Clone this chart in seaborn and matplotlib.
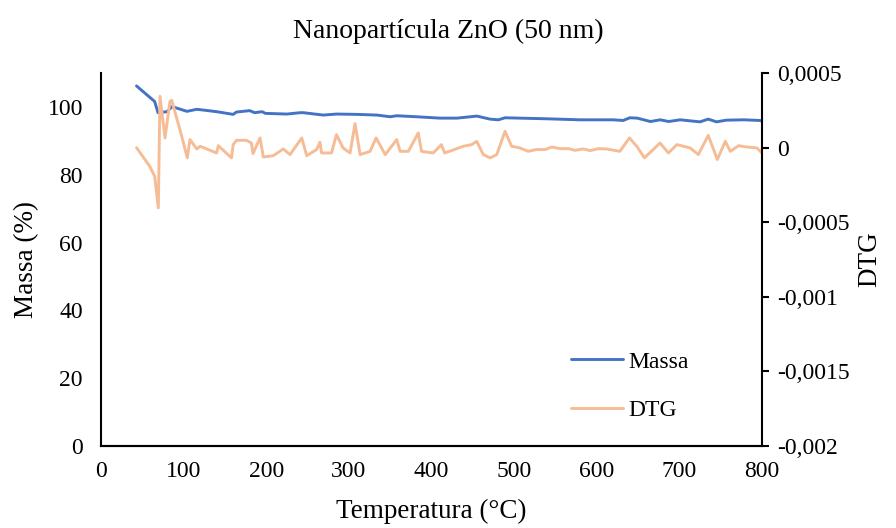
import numpy as np
import pandas as pd
import matplotlib
matplotlib.use("Agg")
import matplotlib.pyplot as plt
from matplotlib.ticker import FuncFormatter
import seaborn as sns

# Mass curve
temp_massa = [43, 65, 69, 80, 86, 104, 116, 140, 160, 164, 180, 186, 195, 199, 225, 241,
              245, 269, 285, 310, 334, 350, 358, 382, 410, 431, 455, 471, 481, 489, 540,
              580, 620, 632, 640, 649, 665, 677, 687, 701, 725, 735, 745, 757, 778, 798, 800]
massa = [106.2, 101.6, 98.3, 98.6, 100.1, 98.7, 99.3, 98.6, 97.8, 98.5, 98.9, 98.3, 98.6, 98.1, 97.9, 98.3,
         98.3, 97.6, 97.9, 97.8, 97.6, 97.1, 97.4, 97.1, 96.7, 96.7, 97.3, 96.4, 96.2, 96.8, 96.5,
         96.2, 96.2, 96.0, 96.8, 96.7, 95.7, 96.2, 95.7, 96.2, 95.6, 96.4, 95.6, 96.1, 96.2, 96.0, 95.8]

# DTG curve, in units of 1e-4
temp_dtg = [43, 59, 65, 69.4, 71.4, 77.5, 83.5, 85.6, 95.6, 104.5, 107.7, 116, 120, 140, 142, 158,
            160, 164, 176, 182, 184, 192.5, 196.5, 208.6, 220.7, 228.8, 243, 249, 261, 265, 267,
            279, 285, 293, 301.5, 307.5, 313.6, 325.7, 333, 344, 358, 362, 372, 384, 388, 402,
            412, 416, 438.6, 448.6, 454.8, 462.8, 471, 479, 489, 497, 507, 517, 527, 537.5,
            545.6, 555.7, 565.8, 573.9, 584, 592, 602, 612, 628, 639.6, 648.5, 657.8, 676.6,
            686.8, 697, 713, 723, 735, 746, 755.6, 761.7, 771.7, 781.7, 793.8, 800]
dtg_e4 = [0.0, -1.25, -1.92, -4.04, 3.44, 0.65, 3.1, 3.17, 1.2, -0.69, 0.54, -0.09, 0.09, -0.36, 0.13, -0.69,
          0.2, 0.49, 0.49, 0.31, -0.4, 0.65, -0.63, -0.54, -0.09, -0.47, 0.65, -0.54, -0.13, 0.36, -0.36,
          -0.36, 0.87, -0.02, -0.36, 1.61, -0.47, -0.25, 0.65, -0.47, 0.54, -0.25, -0.25, 0.98, -0.25, -0.36,
          0.2, -0.36, 0.09, 0.2, 0.42, -0.47, -0.69, -0.47, 1.09, 0.09, -0.02, -0.25, -0.13, -0.13,
          0.04, -0.07, -0.07, -0.18, -0.09, -0.2, -0.07, -0.09, -0.25, 0.65, 0.09, -0.69, 0.31,
          -0.36, 0.2, -0.02, -0.47, 0.82, -0.8, 0.42, -0.25, 0.13, 0.04, -0.02, -0.36]

df_m = pd.DataFrame({"Temperatura": temp_massa, "Massa": massa})
df_d = pd.DataFrame({"Temperatura": temp_dtg, "DTG": np.array(dtg_e4) * 1e-4})

sns.set_style("white")
plt.rcParams["font.family"] = ["Liberation Serif", "DejaVu Serif"]
plt.rcParams["text.color"] = "black"
plt.rcParams["axes.labelcolor"] = "black"
plt.rcParams["xtick.color"] = "black"
plt.rcParams["ytick.color"] = "black"

fig = plt.figure(figsize=(8.96, 5.28), dpi=100)
ax = fig.add_axes([0.1127, 0.1553, 0.7377, 0.7064])
ax2 = ax.twinx()

sns.lineplot(data=df_m, x="Temperatura", y="Massa", ax=ax, color="#4472C4", linewidth=2.1, label="Massa", legend=False)
sns.lineplot(data=df_d, x="Temperatura", y="DTG", ax=ax2, color="#F6BC96", linewidth=2.1, label="DTG", legend=False)

ax.set_xlim(0, 800)
ax.set_ylim(0, 110)
ax.set_xticks(range(0, 801, 100))
ax.set_yticks(range(0, 101, 20))
ax2.set_ylim(-0.002, 0.0005)
ax2.set_yticks([-0.002, -0.0015, -0.001, -0.0005, 0, 0.0005])


def comma_fmt(v, pos):
    if abs(v) < 1e-12:
        return "0"
    s = f"{v:.4f}".rstrip("0").rstrip(".")
    return s.replace(".", ",")


ax2.yaxis.set_major_formatter(FuncFormatter(comma_fmt))

for a in (ax, ax2):
    a.spines["top"].set_visible(False)
    for s in a.spines.values():
        s.set_color("black")
        s.set_linewidth(1.5)
ax2.spines["left"].set_visible(False)
ax.spines["right"].set_visible(False)
ax2.spines["right"].set_visible(True)

ax.tick_params(axis="x", length=0, labelsize=17, pad=11)
ax.tick_params(axis="y", length=0, labelsize=17, pad=13)
ax2.tick_params(axis="y", length=5, width=1.5, direction="out", labelsize=17, pad=6, right=True)

ax.set_xlabel("Temperatura (°C)", fontsize=19.5, labelpad=12)
ax.set_ylabel("Massa (%)", fontsize=19.5, labelpad=6)
ax2.set_ylabel("DTG", fontsize=19.5, labelpad=5)
fig.suptitle("Nanopartícula ZnO (50 nm)", fontsize=20, y=0.964)

h1, l1 = ax.get_legend_handles_labels()
h2, l2 = ax2.get_legend_handles_labels()
ax2.legend(h1 + h2, l1 + l2, loc="center", bbox_to_anchor=(0.80, 0.16), frameon=False,
           fontsize=17, labelspacing=1.15, handlelength=2.2, handletextpad=0.25)

fig.savefig("out.png", dpi=100)
